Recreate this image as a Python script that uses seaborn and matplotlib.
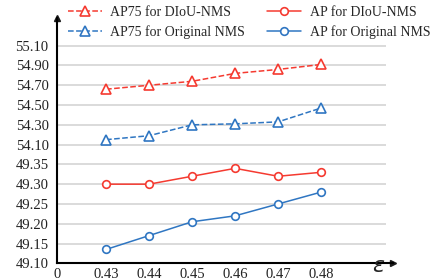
import numpy as np
import pandas as pd
import matplotlib.pyplot as plt
import seaborn as sns

EPS = ['0.43', '0.44', '0.45', '0.46', '0.47', '0.48']
AP75_DIOU = [54.66, 54.70, 54.74, 54.82, 54.86, 54.91]
AP75_ORIG = [54.15, 54.19, 54.30, 54.31, 54.33, 54.47]
AP_DIOU = [49.30, 49.30, 49.32, 49.34, 49.32, 49.33]
AP_ORIG = [49.135, 49.17, 49.205, 49.22, 49.25, 49.28]
Y_TICKS = [49.10, 49.15, 49.20, 49.25, 49.30, 49.35,
           54.10, 54.30, 54.50, 54.70, 54.90, 55.10]

RED = '#f53a30'
BLUE = '#2f76c2'


# broken y axis: 49.10-49.35 in 0.05 steps, 54.10-55.10 in 0.2 steps
def fwd(v):
    v = np.asarray(v, dtype=float)
    return np.where(v <= 49.35, (v - 49.10) / 0.05,
                    np.where(v < 54.10, 5 + (v - 49.35) / 4.75,
                             6 + (v - 54.10) / 0.2))


def inv(t):
    t = np.asarray(t, dtype=float)
    return np.where(t <= 5, 49.10 + 0.05 * t,
                    np.where(t < 6, 49.35 + 4.75 * (t - 5),
                             54.10 + 0.2 * (t - 6)))


sns.set_theme(style='white')
plt.rcParams['font.family'] = ['Liberation Serif', 'DejaVu Serif']
plt.rcParams['font.size'] = 10.5

pos = np.arange(1, len(EPS) + 1)
df = pd.DataFrame({'pos': pos, 'ap75_diou': AP75_DIOU, 'ap75_orig': AP75_ORIG,
                   'ap_diou': AP_DIOU, 'ap_orig': AP_ORIG})

fig = plt.figure(figsize=(4.33, 2.8), dpi=100)
ax = fig.add_axes([57 / 433, 16.7 / 280, (393 - 57) / 433, (263.3 - 18) / 280])
ax.set_yscale('function', functions=(fwd, inv))
ax.set_ylim(49.10, 55.38)
ax.set_xlim(-0.14, 7.67)

ax.hlines(Y_TICKS, -0.14, 7.5, color='#d4d4d4', lw=1.2, zorder=0)

series = [
    ('ap75_diou', 'AP75 for DIoU-NMS', RED, '^', '--', 7.5),
    ('ap75_orig', 'AP75 for Original NMS', BLUE, '^', '--', 7.5),
    ('ap_diou', 'AP for DIoU-NMS', RED, 'o', '-', 5.5),
    ('ap_orig', 'AP for Original NMS', BLUE, 'o', '-', 5.5),
]
for col, label, color, marker, ls, ms in series:
    sns.lineplot(data=df, x='pos', y=col, ax=ax, color=color, marker=marker,
                 linestyle=ls, lw=1.1, ms=ms, mfc='white', mec=color, mew=1.2,
                 label=label, legend=False, zorder=3)

ax.set_yticks(Y_TICKS)
ax.set_yticklabels([f'{v:.2f}' for v in Y_TICKS])
ax.minorticks_off()
ax.set_xticks([-0.14] + list(pos))
ax.set_xticklabels(['0'] + EPS)
ax.tick_params(axis='both', length=0, colors='#222222', labelsize=10.5)
ax.tick_params(axis='y', pad=6)
ax.tick_params(axis='x', pad=3.5)
ax.set_xlabel('')
ax.set_ylabel('')

for s in ['top', 'right']:
    ax.spines[s].set_visible(False)
for s in ['left', 'bottom']:
    ax.spines[s].set_color('black')
    ax.spines[s].set_linewidth(1.5)
ax.plot(1, 0, '>k', ms=4, transform=ax.transAxes, clip_on=False)
ax.plot(0, 1, '^k', ms=4, transform=ax.transAxes, clip_on=False)

ax.text(7.33, inv(-0.22), r'$\varepsilon$', fontsize=16, ha='center', va='center',
        clip_on=False)

handles, labels = ax.get_legend_handles_labels()
fig.legend(handles, labels, ncol=2, loc='upper left', bbox_to_anchor=(0.157, 0.98),
           frameon=False, borderpad=0, borderaxespad=0, handlelength=2.45,
           handletextpad=0.6, columnspacing=1.6, labelspacing=0.5, fontsize=10)

fig.savefig('out.png', dpi=100)
